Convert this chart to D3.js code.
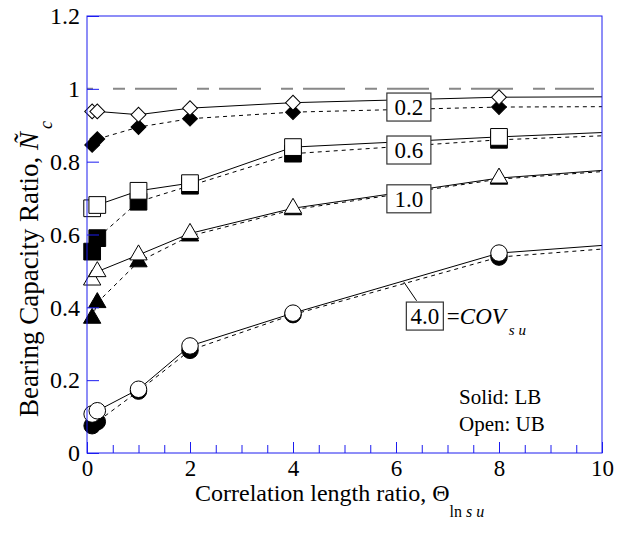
<!DOCTYPE html>
<html>
<head>
<meta charset="utf-8">
<script src="https://cdn.jsdelivr.net/npm/d3@7"></script>
<style>
  body { margin: 0; background: #fff; }
  svg { display: block; font-family: "Liberation Serif", "Times New Roman", serif; }
</style>
</head>
<body>
<svg class="chart"></svg>
<script>
// correlation length ratio (last point lies past the frame, lines are clipped)
var thetaVals = [0.1, 0.2, 1, 2, 4, 8, 16];
var covLabels = ["0.2", "0.6", "1.0", "4.0"];
var xTicks = [0, 2, 4, 6, 8, 10];
var yTicks = [0, 0.2, 0.4, 0.6, 0.8, 1, 1.2];

// open = upper bound, solid = lower bound
var ubCov02 = [0.938, 0.938, 0.929, 0.947, 0.962, 0.977, 0.981];
var lbCov02 = [0.846, 0.862, 0.895, 0.918, 0.936, 0.950, 0.954];
var ubCov06 = [0.672, 0.681, 0.720, 0.741, 0.840, 0.868, 0.916];
var lbCov06 = [0.553, 0.590, 0.690, 0.734, 0.822, 0.860, 0.904];
var ubCov10 = [0.475, 0.498, 0.544, 0.603, 0.672, 0.755, 0.839];
var lbCov10 = [0.370, 0.413, 0.525, 0.596, 0.668, 0.752, 0.835];
var ubCov40 = [0.107, 0.116, 0.175, 0.294, 0.384, 0.549, 0.633];
var lbCov40 = [0.075, 0.086, 0.170, 0.282, 0.380, 0.538, 0.626];

var margin = {top: 16, right: 24, bottom: 80, left: 87};
var width = 626, height = 533;
var chartWidth = width - margin.left - margin.right;
var chartHeight = height - margin.top - margin.bottom;

var x = d3.scaleLinear().domain([0, 10]).range([0, chartWidth]);
var y = d3.scaleLinear().domain([0, 1.2]).range([chartHeight, 0]);

var svg = d3.select(".chart").attr("width", width).attr("height", height);
var chart = svg.append("g")
  .attr("transform", "translate(" + margin.left + "," + margin.top + ")");

chart.append("clipPath").attr("id", "plotClip")
  .append("rect").attr("width", chartWidth).attr("height", chartHeight);

var axisColor = "#1c1cf0";

// reference line at 1.0
chart.append("line")
  .attr("x1", 0).attr("x2", chartWidth - 8)
  .attr("y1", y(1)).attr("y2", y(1))
  .attr("stroke", "#888").attr("stroke-width", 2)
  .attr("stroke-dasharray", "12,10,42,20")
  .attr("stroke-dashoffset", 58);

var series = [
  {label: covLabels[0], shape: "diamond", ub: ubCov02, lb: lbCov02},
  {label: covLabels[1], shape: "square", ub: ubCov06, lb: lbCov06},
  {label: covLabels[2], shape: "triangle", ub: ubCov10, lb: lbCov10},
  {label: covLabels[3], shape: "circle", ub: ubCov40, lb: lbCov40}
];

function symbolFor(shape) {
  if (shape == "diamond") { return d3.symbol().type(d3.symbolSquare).size(110)(); }
  if (shape == "square") { return d3.symbol().type(d3.symbolSquare).size(280)(); }
  if (shape == "triangle") { return d3.symbol().type(d3.symbolTriangle).size(130)(); }
  return d3.symbol().type(d3.symbolCircle).size(215)();
}

var line = d3.line()
  .x(function(d) { return x(d[0]); })
  .y(function(d) { return y(d[1]); });

var lineLayer = chart.append("g").attr("clip-path", "url(#plotClip)");
var markLayer = chart.append("g");

series.forEach(function(s) {
  var ubPts = thetaVals.map(function(t, i) { return [t, s.ub[i]]; });
  var lbPts = thetaVals.map(function(t, i) { return [t, s.lb[i]]; });

  lineLayer.append("path").attr("d", line(lbPts))
    .attr("fill", "none").attr("stroke", "#000").attr("stroke-width", 1)
    .attr("stroke-dasharray", "4,4");
  lineLayer.append("path").attr("d", line(ubPts))
    .attr("fill", "none").attr("stroke", "#000").attr("stroke-width", 1);

  var rot = s.shape == "diamond" ? " rotate(45)" : "";
  // solid first, open drawn on top
  markLayer.selectAll(null)
    .data(lbPts.filter(function(d) { return d[0] <= 10; }))
    .enter().append("path")
    .attr("d", symbolFor(s.shape))
    .attr("transform", function(d) { return "translate(" + x(d[0]) + "," + y(d[1]) + ")" + rot; })
    .attr("fill", "#000").attr("stroke", "#000");
  markLayer.selectAll(null)
    .data(ubPts.filter(function(d) { return d[0] <= 10; }))
    .enter().append("path")
    .attr("d", symbolFor(s.shape))
    .attr("transform", function(d) { return "translate(" + x(d[0]) + "," + y(d[1]) + ")" + rot; })
    .attr("fill", "#fff").attr("stroke", "#000").attr("stroke-width", 1);
});

// COV labels boxed on the curves
var boxPos = [[6.25, 0.950, 44], [6.25, 0.832, 44], [6.25, 0.698, 44], [6.56, 0.376, 37]];
series.forEach(function(s, i) {
  var bx = x(boxPos[i][0]), by = y(boxPos[i][1]), bw = boxPos[i][2];
  if (i == 3) {
    chart.append("line")
      .attr("x1", x(6.40)).attr("y1", y(0.418))
      .attr("x2", x(6.15)).attr("y2", y(0.470))
      .attr("stroke", "#000").attr("stroke-width", 1);
  }
  chart.append("rect")
    .attr("x", bx - bw / 2).attr("y", by - 14)
    .attr("width", bw).attr("height", 28)
    .attr("fill", "#fff").attr("stroke", "#333").attr("stroke-width", 1.2);
  chart.append("text")
    .attr("x", bx).attr("y", by + 8)
    .attr("text-anchor", "middle")
    .style("font-size", "23px")
    .text(s.label);
});

var covText = chart.append("text")
  .attr("x", x(6.56) + 22).attr("y", y(0.376) + 8)
  .style("font-size", "23px");
covText.append("tspan").text("=");
covText.append("tspan").style("font-style", "italic").text("COV");
covText.append("tspan").style("font-style", "italic").style("font-size", "15px")
  .attr("dx", 3).attr("dy", 11).text("s u");

// solid / open note
chart.append("text").attr("x", 372).attr("y", 388)
  .style("font-size", "21px").text("Solid: LB");
chart.append("text").attr("x", 372).attr("y", 415)
  .style("font-size", "21px").text("Open: UB");

// frame
chart.append("rect")
  .attr("width", chartWidth).attr("height", chartHeight)
  .attr("fill", "none").attr("stroke", axisColor).attr("stroke-width", 1);

// x axis: major + minor ticks pointing inward
var xAxis = chart.append("g").attr("transform", "translate(0," + chartHeight + ")");
xAxis.call(d3.axisBottom(x).tickValues(d3.range(0, 10.01, 0.5)).tickSize(-8).tickFormat(""));
xAxis.call(function(g) {
  g.select(".domain").remove();
  g.selectAll(".tick line").attr("stroke", axisColor);
});
var xMajor = chart.append("g").attr("transform", "translate(0," + chartHeight + ")");
xMajor.call(d3.axisBottom(x).tickValues(xTicks).tickSize(-11).tickPadding(7).tickFormat(d3.format("d")));
xMajor.call(function(g) {
  g.select(".domain").remove();
  g.selectAll(".tick line").attr("stroke", axisColor);
  g.selectAll(".tick text").attr("fill", "#000")
    .style("font-size", "23px").style("font-family", "Liberation Serif, serif");
});

var yAxis = chart.append("g");
yAxis.call(d3.axisLeft(y).tickValues(yTicks).tickSize(-12).tickPadding(7)
  .tickFormat(function(d) { return d == 0 || d == 1 ? d3.format("d")(d) : d3.format(".1f")(d); }));
yAxis.call(function(g) {
  g.select(".domain").remove();
  g.selectAll(".tick line").attr("stroke", axisColor);
  g.selectAll(".tick text").attr("fill", "#000")
    .style("font-size", "24px").style("font-family", "Liberation Serif, serif");
});

// axis titles
var xTitle = svg.append("text").attr("x", 195).attr("y", 501).style("font-size", "24px");
xTitle.append("tspan").text("Correlation length ratio, \u0398");
xTitle.append("tspan").style("font-size", "16px").attr("dy", 16).text("ln ");
xTitle.append("tspan").style("font-size", "16px").style("font-style", "italic").text("s u");

var yTitle = svg.append("text")
  .attr("transform", "translate(38,417) rotate(-90)")
  .style("font-size", "27px");
yTitle.append("tspan").text("Bearing Capacity Ratio, ");
yTitle.append("tspan").style("font-style", "italic").text("\u00d1");
yTitle.append("tspan").style("font-style", "italic").style("font-size", "18px")
  .attr("dx", 3).attr("dy", 14).text("c");
</script>
</body>
</html>
